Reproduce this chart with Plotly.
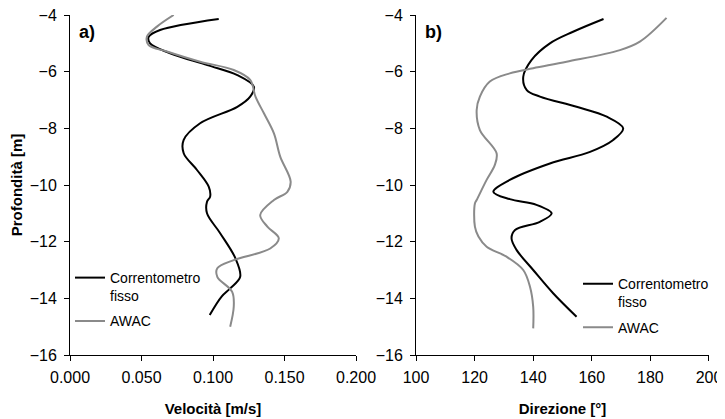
import plotly.graph_objects as go

# Panel a) velocity vs depth
vel_fix_x = [0.104, 0.063, 0.055, 0.056, 0.070, 0.096, 0.117, 0.1286, 0.126, 0.117, 0.091, 0.0795, 0.0795,
             0.0888, 0.097, 0.098, 0.0958, 0.0958, 0.105, 0.1157, 0.119, 0.112, 0.106, 0.0977]
vel_fix_y = [-4.14, -4.53, -4.77, -5.0, -5.35, -5.77, -6.12, -6.53, -6.88, -7.24, -7.82, -8.41, -8.88,
             -9.47, -10.06, -10.41, -10.59, -11.0, -11.7, -12.59, -13.24, -13.65, -13.94, -14.59]
vel_awac_x = [0.0725, 0.0608, 0.0538, 0.055, 0.0678, 0.091, 0.1145, 0.126, 0.1297, 0.1356, 0.1426, 0.147,
              0.1543, 0.152, 0.1426, 0.133, 0.138, 0.146, 0.140, 0.1145, 0.103, 0.103, 0.1134, 0.1145, 0.112]
vel_awac_y = [-4.0, -4.41, -4.77, -5.06, -5.29, -5.65, -5.94, -6.29, -6.88, -7.47, -8.18, -9.0,
              -9.88, -10.24, -10.53, -11.06, -11.47, -11.88, -12.24, -12.65, -12.94, -13.24, -13.77, -14.3, -15.0]

# Panel b) direction vs depth
dir_fix_x = [164.0, 153.6, 145.7, 139.4, 136.6, 137.8, 142.3, 154.8, 165.1, 170.7, 167.3, 159.4, 145.7,
             132.0, 126.4, 132.0, 141.1, 146.3, 142.3, 133.8, 132.6, 134.3, 140.0, 146.8, 154.8]
dir_fix_y = [-4.14, -4.59, -5.0, -5.59, -6.18, -6.65, -6.88, -7.24, -7.59, -8.0, -8.41, -8.83, -9.24,
             -9.82, -10.24, -10.5, -10.7, -11.0, -11.3, -11.59, -11.88, -12.29, -13.0, -13.82, -14.65]
dir_awac_x = [185.5, 176.4, 169.6, 151.4, 140.0, 132.0, 125.2, 121.8, 120.7, 121.8, 127.5, 126.9, 124.1,
              120.7, 120.1, 120.1, 121.3, 124.1, 130.9, 136.6, 138.9, 140.0, 140.0]
dir_awac_y = [-4.1, -4.94, -5.24, -5.65, -5.88, -6.06, -6.35, -6.88, -7.35, -8.06, -8.88, -9.29, -9.82,
              -10.53, -10.65, -11.47, -11.82, -12.18, -12.53, -13.0, -13.59, -14.3, -15.06]

vel_ticks = [0.0, 0.05, 0.1, 0.15, 0.2]
dir_ticks = [100, 120, 140, 160, 180, 200]
depth_ticks = [-4, -6, -8, -10, -12, -14, -16]

BLACK = "#000000"
GRAY = "#8a8a8a"
FONT = "Liberation Sans, Arial, sans-serif"

fig = go.Figure()
fig.add_trace(go.Scatter(x=vel_fix_x, y=vel_fix_y, mode="lines", name="Correntometro<br>fisso",
                         legendgroup="a1",
                         line=dict(color=BLACK, width=2, shape="spline"), xaxis="x", yaxis="y", legend="legend"))
fig.add_trace(go.Scatter(x=vel_awac_x, y=vel_awac_y, mode="lines", name="AWAC", legendgroup="a2",
                         line=dict(color=GRAY, width=2, shape="spline"), xaxis="x", yaxis="y", legend="legend"))
fig.add_trace(go.Scatter(x=dir_fix_x, y=dir_fix_y, mode="lines", name="Correntometro<br>fisso",
                         legendgroup="b1",
                         line=dict(color=BLACK, width=2, shape="spline"), xaxis="x2", yaxis="y2", legend="legend2"))
fig.add_trace(go.Scatter(x=dir_awac_x, y=dir_awac_y, mode="lines", name="AWAC", legendgroup="b2",
                         line=dict(color=GRAY, width=2, shape="spline"), xaxis="x2", yaxis="y2", legend="legend2"))

axis_common = dict(showgrid=False, zeroline=False, showline=True, linecolor="black", linewidth=1,
                   ticks="outside", ticklen=5, tickcolor="black", automargin=False,
                   ticklabeloverflow="allow",
                   tickfont=dict(size=16, color="black", family=FONT))

legend_common = dict(xanchor="left", yanchor="top", bgcolor="rgba(0,0,0,0)",
                     font=dict(size=14, family=FONT, color="black"), valign="top", tracegroupgap=4,
                     itemwidth=30)

fig.update_layout(
    width=717, height=411,
    margin=dict(l=62, r=16, t=7, b=64),
    paper_bgcolor="white", plot_bgcolor="white",
    font=dict(family=FONT, color="black", size=15),
    showlegend=True,
    xaxis=dict(domain=[0, 0.4476], range=[0, 0.2], tickvals=vel_ticks, tickformat=".3f", ticklabelstandoff=3,
               title=dict(text="<b>Velocità [m/s]</b>", font=dict(size=15), standoff=18), **axis_common),
    yaxis=dict(domain=[0, 1], range=[-16, -4], tickvals=depth_ticks, anchor="x", ticklabelstandoff=4,
               title=dict(text="<b>Profondità [m]</b>", font=dict(size=15), standoff=10), **axis_common),
    xaxis2=dict(domain=[0.5415, 1], range=[100, 200], tickvals=dir_ticks, anchor="y2", ticklabelstandoff=3,
                title=dict(text="<b>Direzione [°]</b>", font=dict(size=15), standoff=18), **axis_common),
    yaxis2=dict(domain=[0, 1], range=[-16, -4], tickvals=depth_ticks, anchor="x2", ticklabelstandoff=4,
                **axis_common),
    legend=dict(x=0.0, y=0.2735, **legend_common),
    legend2=dict(x=0.795, y=0.2554, **legend_common),
    annotations=[
        dict(text="<b>a)</b>", x=0.0, y=1.0, xref="x domain", yref="y domain", xanchor="left", yanchor="top",
             xshift=7, yshift=-5, showarrow=False, font=dict(size=18, family=FONT)),
        dict(text="<b>b)</b>", x=0.0, y=1.0, xref="x2 domain", yref="y2 domain", xanchor="left", yanchor="top",
             xshift=7, yshift=-5, showarrow=False, font=dict(size=18, family=FONT)),
    ],
)

fig.write_html("out.html")
